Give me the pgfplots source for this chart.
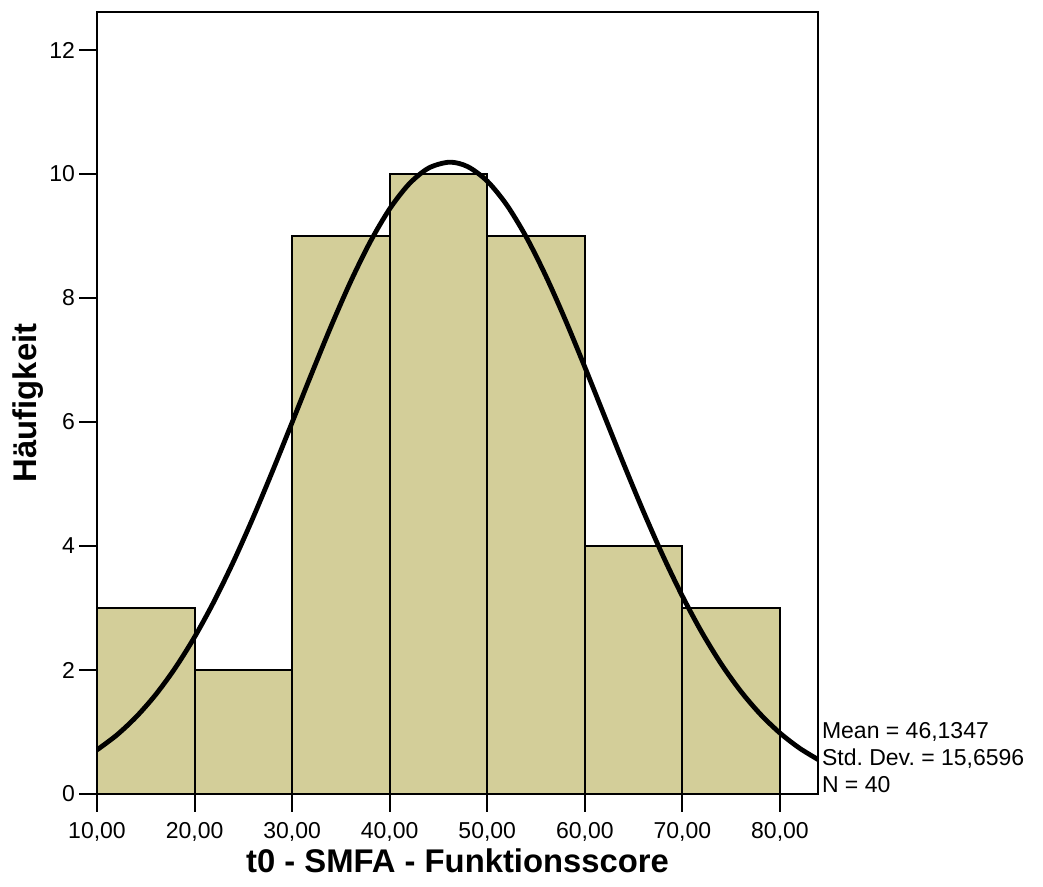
\documentclass[border=0pt]{standalone}
\usepackage{pgfplots}
\pgfplotsset{compat=1.18}
\usepackage{fontspec}
\setmainfont{Liberation Sans}
\usetikzlibrary{calc}
\definecolor{barfill}{RGB}{211,206,153}
\frenchspacing
\begin{document}
\begin{tikzpicture}
\begin{axis}[
  name=ax,
  scale only axis,
  width=360.5pt, height=391pt,
  xmin=10, xmax=83.9, ymin=0, ymax=12.613,
  axis line style={line width=1pt},
  tick style={line width=1pt, black},
  tick align=outside, tick pos=left,
  major tick length=9pt,
  xtick={10,20,30,40,50,60,70,80},
  ytick={0,2,4,6,8,10,12},
  /pgf/number format/assume math mode=true,
  xticklabel style={yshift=-1.5pt, /pgf/number format/.cd, fixed, fixed zerofill, precision=2, use comma},
  yticklabel style={xshift=1.5pt},
  tick label style={font=\fontsize{11.5}{13}\selectfont},
  clip=true,
]
\addplot[ybar interval, fill=barfill, draw=black, line width=1pt] coordinates {
  (10,3) (20,2) (30,9) (40,10) (50,9) (60,4) (70,3) (80,3)
};
\addplot[smooth, line width=2.4pt, black, no marks] coordinates {
  (10,0.7114) (12,0.9472) (14,1.2410) (16,1.5997) (18,2.0287) (20,2.5315)
  (22,3.1075) (24,3.7527) (26,4.4586) (28,5.2116) (30,5.9936) (32,6.7806)
  (34,7.5476) (36,8.2650) (38,8.9042) (40,9.4378) (42,9.8413) (44,10.0962)
  (46.1347,10.1904) (48,10.1184) (50,9.8847) (52,9.5001) (54,8.9827)
  (56,8.3561) (58,7.6476) (60,6.8859) (62,6.0998) (64,5.3156) (66,4.5577)
  (68,3.8444) (70,3.1906) (72,2.6050) (74,2.0921) (76,1.6534) (78,1.2854)
  (80,0.9832) (82,0.7399) (83.9,0.5564)
};
\end{axis}
\node[anchor=base, font=\fontsize{16.4}{18}\selectfont\bfseries] at ($(ax.south)+(0,-39.5pt)$) {t0 - SMFA - Funktionsscore};
\node[anchor=base, rotate=90, font=\fontsize{16.4}{18}\selectfont\bfseries] at ($(ax.west)+(-30.5pt,0)$) {Häufigkeit};
\begin{scope}[every node/.style={anchor=base west, inner sep=0pt, font=\fontsize{11.5}{13}\selectfont}]
\node at ($(ax.south east)+(1.8pt,27.5pt)$) {Mean = 46,1347};
\node at ($(ax.south east)+(1.8pt,14pt)$) {Std. Dev. = 15,6596};
\node at ($(ax.south east)+(1.8pt,0.5pt)$) {N = 40};
\end{scope}
\pgfresetboundingbox
\path ($(ax.south west)+(-48.5pt,-46.5pt)$) rectangle ($(ax.south west)+(473pt,397pt)$);
\end{tikzpicture}
\end{document}
